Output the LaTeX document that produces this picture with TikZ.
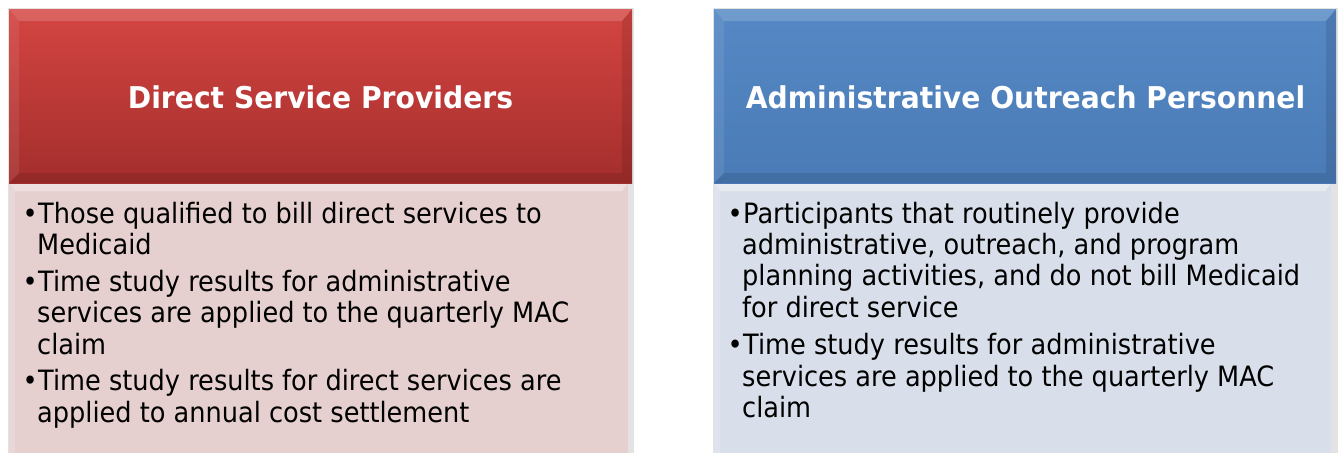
\documentclass[tikz,border=0pt]{standalone}
\usepackage{fontspec}
\setmainfont{DejaVu Sans}[FakeStretch=0.915]
\newfontfamily\headfont{DejaVu Sans}[FakeStretch=0.94]
\definecolor{redtop}{HTML}{D44542}
\definecolor{redbot}{HTML}{A32E2C}
\definecolor{bluetop}{HTML}{5588C4}
\definecolor{bluebot}{HTML}{4A7BB7}
\definecolor{pinkbody}{HTML}{E6CFCF}
\definecolor{bluebody}{HTML}{D9DFEA}
\begin{document}
\begin{tikzpicture}[x=1pt,y=-1pt,
  bodytext/.style={anchor=base west, inner sep=0pt, font=\fontsize{28}{31}\selectfont, text=black},
  bullettext/.style={anchor=base east, inner sep=0pt, font=\fontsize{28}{31}\selectfont, text=black},
  headtext/.style={anchor=base, inner sep=0pt, font=\headfont\fontsize{30}{34}\selectfont\bfseries, text=white},
  shadowbox/.style={fill=black!11},
  lightband/.style={fill=white, fill opacity=0.16},
  darkband/.style={fill=black, fill opacity=0.10}]
\useasboundingbox (0,0) rectangle (1339,453);
\fill[white] (0,0) rectangle (1339,453);
% ---------- left panel ----------
\fill[shadowbox] (8,8) rectangle (634,453);
\fill[pinkbody] (9,183) rectangle (628,453);
\fill[white, fill opacity=0.35] (9,183) -- (628,183) -- (622,191) -- (15,191) -- cycle;
\fill[white, fill opacity=0.15] (9,183) -- (15,191) -- (15,453) -- (9,453) -- cycle;
\shade[top color=redtop, bottom color=redbot] (9,9) rectangle (632,183);
\fill[lightband] (9,9) -- (632,9) -- (622,21) -- (19,21) -- cycle;
\fill[white, fill opacity=0.08] (9,9) -- (19,21) -- (19,173) -- (9,183) -- cycle;
\fill[darkband] (632,9) -- (632,183) -- (622,173) -- (622,21) -- cycle;
\fill[darkband] (9,183) -- (632,183) -- (622,173) -- (19,173) -- cycle;
\node[headtext] (lh) at (320.5,108) {Direct Service Providers};
\node[bullettext] (lb1) at (38,223) {•};
\node[bodytext] (l1) at (38,223) {Those qualified to bill direct services to};
\node[bodytext] (l2) at (37,254.5) {Medicaid};
\node[bullettext] (lb2) at (38,291) {•};
\node[bodytext] (l3) at (38,291) {Time study results for administrative};
\node[bodytext] (l4) at (37,322.5) {services are applied to the quarterly MAC};
\node[bodytext] (l5) at (37,354) {claim};
\node[bullettext] (lb3) at (38,390.5) {•};
\node[bodytext] (l6) at (38,390.5) {Time study results for direct services are};
\node[bodytext] (l7) at (37,422) {applied to annual cost settlement};
% ---------- right panel ----------
\fill[shadowbox] (713,8) rectangle (1338,453);
\fill[bluebody] (714,183) rectangle (1331,453);
\fill[white, fill opacity=0.35] (714,183) -- (1331,183) -- (1325,191) -- (720,191) -- cycle;
\fill[white, fill opacity=0.15] (714,183) -- (720,191) -- (720,453) -- (714,453) -- cycle;
\shade[top color=bluetop, bottom color=bluebot] (714,9) rectangle (1336,183);
\fill[lightband] (714,9) -- (1336,9) -- (1326,21) -- (724,21) -- cycle;
\fill[white, fill opacity=0.08] (714,9) -- (724,21) -- (724,173) -- (714,183) -- cycle;
\fill[darkband] (1336,9) -- (1336,183) -- (1326,173) -- (1326,21) -- cycle;
\fill[darkband] (714,183) -- (1336,183) -- (1326,173) -- (724,173) -- cycle;
\node[headtext] (rh) at (1025.5,108) {Administrative Outreach Personnel};
\node[bullettext] (rb1) at (743,223) {•};
\node[bodytext] (r1) at (743,223) {Participants that routinely provide};
\node[bodytext] (r2) at (742,254) {administrative, outreach, and program};
\node[bodytext] (r3) at (742,285.5) {planning activities, and do not bill Medicaid};
\node[bodytext] (r4) at (742,317) {for direct service};
\node[bullettext] (rb2) at (743,354.5) {•};
\node[bodytext] (r5) at (743,354.5) {Time study results for administrative};
\node[bodytext] (r6) at (742,386) {services are applied to the quarterly MAC};
\node[bodytext] (r7) at (742,417.5) {claim};
\end{tikzpicture}
\end{document}
